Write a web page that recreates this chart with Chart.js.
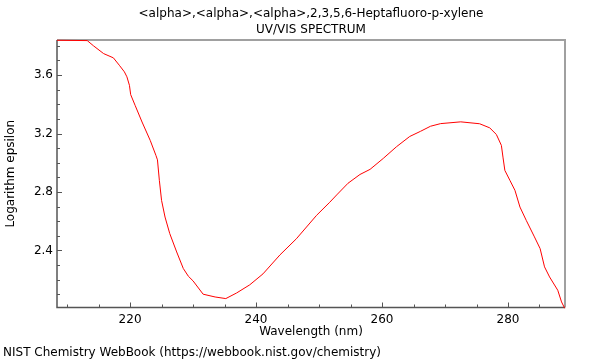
<!DOCTYPE html>
<html>
<head>
<meta charset="utf-8">
<script src="https://cdn.jsdelivr.net/npm/chart.js@4.4.1/dist/chart.umd.min.js"></script>
<style>
  html, body { margin: 0; padding: 0; background: #fff; }
  #wrap { position: relative; width: 600px; height: 360px; }
  #footer { position: absolute; left: 3px; top: 345px; font: 12px "DejaVu Sans", sans-serif; color: #000; white-space: nowrap; }
</style>
</head>
<body>
<div id="wrap">
  <canvas id="c" width="600" height="360"></canvas>
  <div id="footer">NIST Chemistry WebBook (https://webbook.nist.gov/chemistry)</div>
</div>
<script>
const titleLines = ["<alpha>,<alpha>,<alpha>,2,3,5,6-Heptafluoro-p-xylene", "UV/VIS SPECTRUM"];
const xTitle = "Wavelength (nm)";
const yTitle = "Logarithm epsilon";

const wavelengths = [208.4, 213.2, 214.2, 215.8, 217.35, 218.3, 219.1, 219.5, 219.9, 220.1,
  220.8, 221.9, 223.2, 224.1, 224.35, 224.65, 225.0, 225.55, 226.3, 227.4,
  228.45, 229.25, 230.0, 231.6, 233.5, 235.2, 236.9, 239.0, 241.1, 243.8,
  246.4, 249.6, 251.7, 252.8, 254.6, 256.5, 258.1, 260.2, 262.3, 264.4,
  266.1, 267.7, 269.3, 272.5, 275.5, 277.1, 278.15, 278.95, 279.2, 279.5,
  280.3, 281.1, 281.9, 282.9, 284.2, 285.1, 285.8, 286.6, 287.9, 288.5,
  289.0];
const logEpsilon = [3.838, 3.836, 3.80, 3.747, 3.718, 3.667, 3.622, 3.588, 3.53, 3.466,
  3.393, 3.279, 3.153, 3.051, 3.02, 2.88, 2.743, 2.629, 2.516, 2.39,
  2.277, 2.224, 2.192, 2.101, 2.082, 2.071, 2.109, 2.165, 2.24, 2.37,
  2.48, 2.64, 2.73, 2.78, 2.86, 2.92, 2.955, 3.03, 3.11, 3.18,
  3.215, 3.25, 3.268, 3.28, 3.267, 3.239, 3.194, 3.119, 3.039, 2.948,
  2.88, 2.812, 2.697, 2.606, 2.493, 2.413, 2.288, 2.219, 2.128, 2.048,
  2.005];

const xMin = 208.4, xMax = 289.05, xMajor = 20, xMinor = 5;
const yMin = 2.01, yMax = 3.84, yMajor = 0.4, yMinor = 0.1;

const FONT = "'DejaVu Sans', sans-serif";

const framePlugin = {
  id: 'frame',
  beforeDatasetsDraw(chart) {
    const ctx = chart.ctx, a = chart.chartArea;
    const xs = chart.scales.x, ys = chart.scales.y;
    ctx.save();
    ctx.strokeStyle = '#a0a0a0';
    ctx.lineWidth = 2;
    ctx.beginPath();
    ctx.moveTo(a.left, a.top); ctx.lineTo(a.right, a.top); ctx.lineTo(a.right, a.bottom);
    ctx.stroke();
    ctx.strokeStyle = '#555555';
    ctx.lineWidth = 1.5;
    ctx.beginPath();
    ctx.moveTo(a.left, a.top); ctx.lineTo(a.left, a.bottom); ctx.lineTo(a.right, a.bottom);
    ctx.stroke();
    ctx.lineWidth = 1;
    ctx.beginPath();
    for (let v = Math.ceil(xMin / xMinor) * xMinor; v <= xMax + 1e-9; v += xMinor) {
      const px = Math.round(xs.getPixelForValue(v)) + 0.5;
      const major = Math.abs(v / xMajor - Math.round(v / xMajor)) < 1e-6;
      ctx.moveTo(px, a.bottom); ctx.lineTo(px, a.bottom - (major ? 5 : 3));
    }
    for (let k = Math.ceil(yMin / yMinor); k * yMinor <= yMax + 1e-9; k++) {
      const v = k * yMinor;
      const py = Math.round(ys.getPixelForValue(v)) + 0.5;
      const major = Math.abs(v / yMajor - Math.round(v / yMajor)) < 1e-6;
      ctx.moveTo(a.left, py); ctx.lineTo(a.left + (major ? 5 : 3), py);
    }
    ctx.stroke();
    ctx.restore();
  }
};

new Chart(document.getElementById('c'), {
  type: 'line',
  data: {
    datasets: [{
      data: wavelengths.map((w, i) => ({ x: w, y: logEpsilon[i] })),
      borderColor: '#ff0000',
      borderWidth: 1,
      pointRadius: 0,
      tension: 0,
      fill: false,
      clip: 2
    }]
  },
  options: {
    responsive: false,
    animation: false,
    events: [],
    layout: { padding: { left: 0, right: 35, top: 0, bottom: 20.8 } },
    plugins: {
      legend: { display: false },
      tooltip: { enabled: false },
      title: {
        display: true,
        fullSize: false,
        text: titleLines,
        color: '#000',
        font: { family: FONT, size: 12, weight: 'normal', lineHeight: 1.4 },
        padding: { top: 5, bottom: 1.4 }
      }
    },
    scales: {
      x: {
        type: 'linear',
        min: xMin, max: xMax,
        afterFit(s) { s.height = 31.7; },
        grid: { display: false, drawTicks: false },
        border: { display: false },
        ticks: { stepSize: xMajor, includeBounds: false, color: '#000', padding: 5,
          font: { family: FONT, size: 12 }, maxRotation: 0 },
        title: { display: true, text: xTitle, color: '#000', padding: { top: 0, bottom: 0 },
          font: { family: FONT, size: 12, lineHeight: 1.2 } }
      },
      y: {
        type: 'linear',
        min: yMin, max: yMax,
        afterFit(s) { s.width = 57; },
        grid: { display: false, drawTicks: false },
        border: { display: false },
        ticks: { stepSize: yMajor, includeBounds: false, color: '#000', padding: 4,
          font: { family: FONT, size: 12 }, callback: v => v.toFixed(1) },
        title: { display: true, text: yTitle, color: '#000', padding: { top: 4, bottom: 0 },
          font: { family: FONT, size: 12, lineHeight: 1.2 } }
      }
    }
  },
  plugins: [framePlugin]
});
</script>
</body>
</html>
